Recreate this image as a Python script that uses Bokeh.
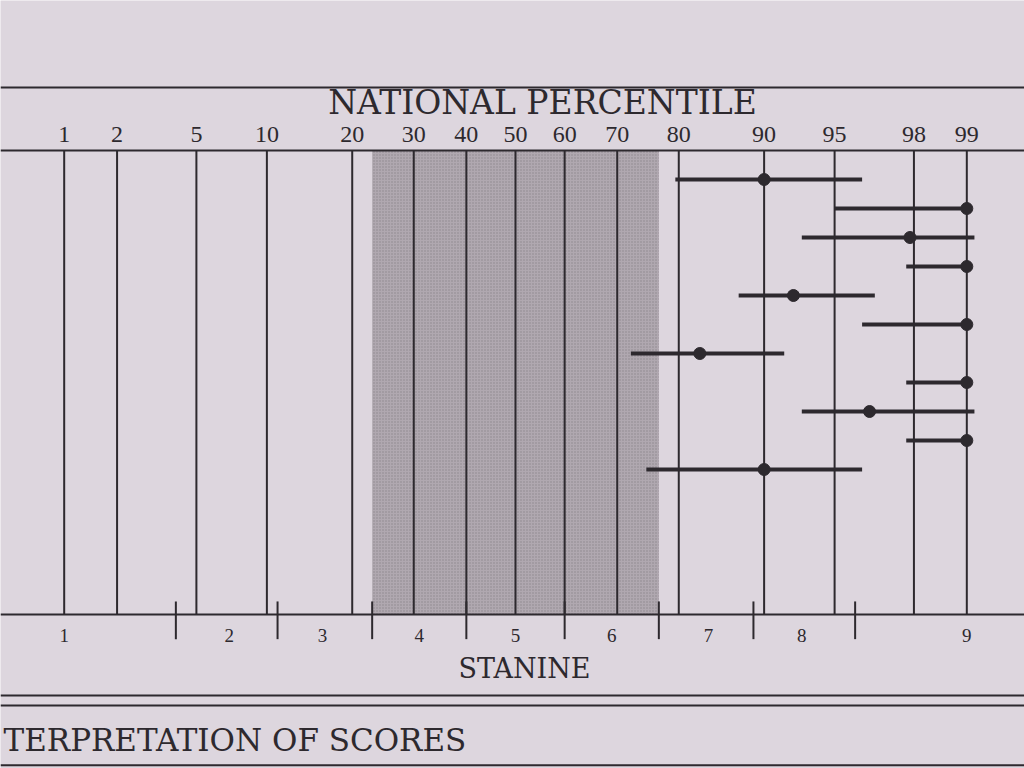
from statistics import NormalDist
from bokeh.plotting import figure
from bokeh.models import Range1d, ColumnDataSource
from bokeh.core.properties import value
from bokeh.embed import file_html
from bokeh.resources import INLINE

# ---------------- data ----------------
percentile_ticks = [1, 2, 5, 10, 20, 30, 40, 50, 60, 70, 80, 90, 95, 98, 99]
stanine_labels = ["1", "2", "3", "4", "5", "6", "7", "8", "9"]
stanine_label_pct = [1, 7, 16, 31, 50, 69, 84, 93, 99]
stanine_bounds = [4, 11, 23, 40, 60, 77, 89, 96]
average_band = [23, 77]

score_pct = [90, 99, 97.9, 99, 92.4, 99, 82.9, 99, 96.6, 99, 90]
band_low = [79.5, 95, 93, 97.8, 87.5, 96.3, 72.4, 97.8, 93, 97.8, 75]
band_high = [96.3, 99, 99.1, 99, 96.8, 99, 91.7, 99, 99.1, 99, 96.3]

title_text = "NATIONAL PERCENTILE"
stanine_title = "STANINE"
footer_text = "TERPRETATION OF SCORES"

# ---------------- helpers / layout ----------------
nd = NormalDist()


def z(p):
    return nd.inv_cdf(p / 100.0)


W, H = 1024, 768
PX_PER_Z, CENTER = 194.0, 515.0
ROW, TOP = 29.0, 150.0
XMIN, XMAX = -CENTER / PX_PER_Z, (W - CENTER) / PX_PER_Z
BOX_BOTTOM = 16.0

BG = "#ddd6de"
INK = "#2d292e"
BAND = "#b0a8b0"
SERIF = value("Liberation Serif")
CAPS = value("DejaVu Serif")

p = figure(width=W, height=H, x_range=Range1d(XMIN, XMAX),
           y_range=Range1d((H - TOP) / ROW, -TOP / ROW),
           x_axis_location=None, y_axis_location=None,
           output_backend="svg", toolbar_location=None, min_border=0)
p.grid.visible = False
p.outline_line_color = None
p.background_fill_color = BG
p.border_fill_color = BG

# average band (stanines 4-6)
p.quad(left=[z(average_band[0])], right=[z(average_band[1])], top=[0], bottom=[BOX_BOTTOM],
       fill_color=BAND, line_color=None, hatch_pattern="dot", hatch_color="#7d767e",
       hatch_scale=3, hatch_alpha=0.7)

# vertical percentile lines
zt = [z(v) for v in percentile_ticks]
p.segment(x0=zt, y0=[0] * len(zt), x1=zt, y1=[BOX_BOTTOM] * len(zt),
          line_color=INK, line_width=2)

# horizontal rules
rules = [-2.17, 0, BOX_BOTTOM, 18.79, 19.14, 21.2]
p.segment(x0=[XMIN] * len(rules), y0=rules, x1=[XMAX] * len(rules), y1=rules,
          line_color=INK, line_width=2)

# percentile labels and title
p.text(x=zt, y=[-0.55] * len(zt), text=[str(v) for v in percentile_ticks],
       text_font=SERIF, text_font_size="24px", text_color=INK,
       text_align="center", text_baseline="middle")
p.text(x=[(542 - CENTER) / PX_PER_Z], y=[-1.67], text=[title_text],
       text_font=CAPS, text_font_size="33px", text_color=INK,
       text_align="center", text_baseline="middle")

# stanine scale
zb = [z(v) for v in stanine_bounds]
p.segment(x0=zb, y0=[15.55] * len(zb), x1=zb, y1=[16.85] * len(zb),
          line_color=INK, line_width=2)
p.text(x=[z(v) for v in stanine_label_pct], y=[16.72] * len(stanine_labels),
       text=stanine_labels, text_font=SERIF, text_font_size="19px", text_color=INK,
       text_align="center", text_baseline="middle")
p.text(x=[(524 - CENTER) / PX_PER_Z], y=[17.86], text=[stanine_title],
       text_font=CAPS, text_font_size="27px", text_color=INK,
       text_align="center", text_baseline="middle")

# footer
p.text(x=[XMIN + 3 / PX_PER_Z], y=[20.34], text=[footer_text],
       text_font=CAPS, text_font_size="31px", text_color=INK,
       text_align="left", text_baseline="middle")

# score bands and points
rows = list(range(1, len(score_pct) + 1))
src = ColumnDataSource(dict(
    row=rows,
    lo=[z(v) for v in band_low],
    hi=[z(v) for v in band_high],
    mid=[z(v) for v in score_pct],
))
p.segment(x0="lo", y0="row", x1="hi", y1="row", source=src, line_color=INK, line_width=4)
p.scatter(x="mid", y="row", source=src, size=12, fill_color=INK, line_color=INK)

open("out.html", "w").write(file_html(p, INLINE))
